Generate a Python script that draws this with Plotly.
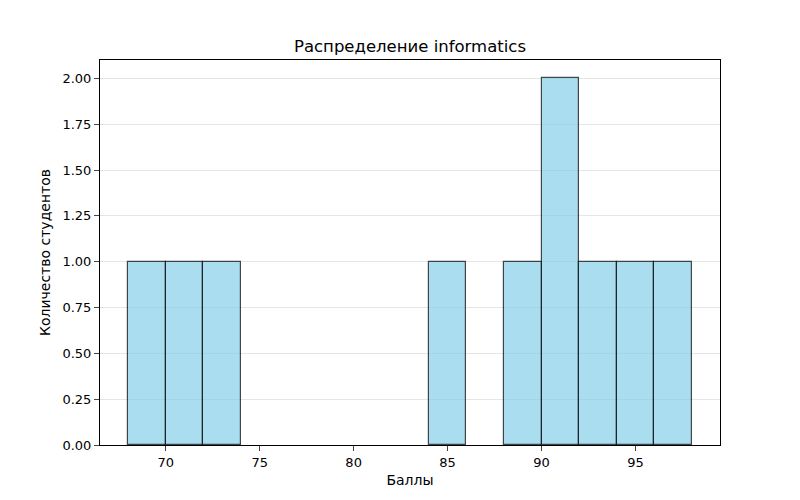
import plotly.graph_objects as go

bin_left = [68, 70, 72, 74, 76, 78, 80, 82, 84, 86, 88, 90, 92, 94, 96]
counts = [1, 1, 1, 0, 0, 0, 0, 0, 1, 0, 1, 2, 1, 1, 1]
bin_width = 2
x_ticks = [70, 75, 80, 85, 90, 95]
y_ticks = [0.0, 0.25, 0.5, 0.75, 1.0, 1.25, 1.5, 1.75, 2.0]

pairs = [(b + bin_width / 2, c) for b, c in zip(bin_left, counts) if c > 0]
centers = [p[0] for p in pairs]
heights = [p[1] for p in pairs]

fig = go.Figure(go.Bar(
    x=centers, y=heights, width=[bin_width] * len(centers),
    marker=dict(color="rgba(135,206,235,0.7)",
                line=dict(color="rgba(0,0,0,0.7)", width=1.2)),
))

font = "DejaVu Sans"
fig.update_layout(
    width=800, height=500,
    margin=dict(l=92, r=88, t=52, b=63, autoexpand=False),
    paper_bgcolor="white", plot_bgcolor="white",
    font=dict(family=font, size=13, color="black"),
    title=dict(text="Распределение informatics", x=0.5, xref="paper", xanchor="center",
               y=1 - 38 / 500, yanchor="middle", font=dict(size=16.5)),
    showlegend=False, bargap=0,
)
fig.update_xaxes(
    range=[66.5, 99.5], tickvals=x_ticks, ticks="outside", ticklen=5,
    tickfont=dict(size=13), automargin=False,
    showgrid=False, showline=True, linecolor="black", linewidth=1, mirror=True,
    title=dict(text="Баллы", standoff=6, font=dict(size=14)), zeroline=False,
)
fig.update_yaxes(
    range=[0, 2.1], tickvals=y_ticks, tickformat=".2f", ticks="outside", ticklen=5,
    tickfont=dict(size=13), automargin=False,
    showgrid=True, gridcolor="rgba(0,0,0,0.1)", gridwidth=1,
    showline=True, linecolor="black", linewidth=1, mirror=True,
    title=dict(text="Количество студентов", standoff=8, font=dict(size=14)), zeroline=False,
)
fig.write_html("out.html")
